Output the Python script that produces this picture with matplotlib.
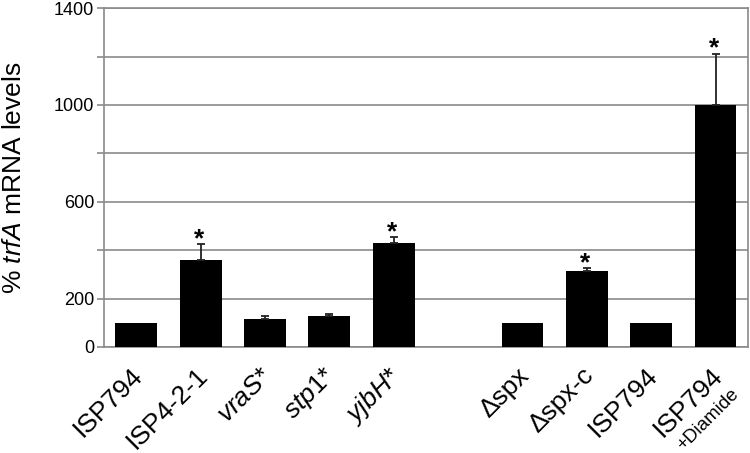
import numpy as np
import matplotlib
matplotlib.use('Agg')
from matplotlib import pyplot as plt
from matplotlib import transforms

plt.rcParams['font.family'] = ['Liberation Sans', 'DejaVu Sans']
plt.rcParams['mathtext.fontset'] = 'custom'
plt.rcParams['mathtext.rm'] = 'Liberation Sans'
plt.rcParams['mathtext.it'] = 'Liberation Sans:italic'

# data
labels = ['ISP794', 'ISP4-2-1', r'$\mathit{vraS}$*', r'$\mathit{stp1}$*', r'$\mathit{yjbH}$*',
          '', 'Δspx', 'Δspx-c', 'ISP794', 'ISP794']
values = [100, 358, 116, 127, 430, None, 100, 315, 100, 1000]
errors = [0, 68, 11, 11, 24, None, 0, 11, 0, 212]
signif = [False, True, False, False, True, False, False, True, False, True]

x = np.arange(len(labels))
fig = plt.figure(figsize=(7.5, 4.53), dpi=100)
ax = fig.add_axes([0.1387, 0.234, 0.997 - 0.1387, 0.982 - 0.234])

grey = '#8a8a8a'
for i in x:
    if values[i] is None:
        continue
    ax.bar(i, values[i], width=0.65, color='black', zorder=3)
    if errors[i] > 0:
        ax.errorbar(i, values[i], yerr=[[0], [errors[i]]], fmt='none', ecolor='#222222',
                    elinewidth=1.3, capsize=3, capthick=1.3, zorder=4)
    if signif[i]:
        ax.annotate('*', (i, values[i] + errors[i]), xytext=(-1, -1.5),
                    textcoords='offset points', ha='center', va='baseline',
                    fontsize=19, fontweight='bold', zorder=5)

ax.set_xlim(-0.5, 9.5)
ax.set_ylim(0, 1400)
ax.set_yticks(np.arange(0, 1401, 200))
ax.set_yticklabels(['0', '200', '', '600', '', '1000', '', '1400'], fontsize=13)
ax.yaxis.grid(True, color=grey, linewidth=1.2, zorder=0)
for s in ax.spines.values():
    s.set_color(grey)
    s.set_linewidth(1.2)
ax.tick_params(axis='y', length=5, width=1.2, color=grey, pad=2)
ax.tick_params(axis='x', length=0)

ax.set_xticks(x)
offset = transforms.ScaledTranslation(3 / 100, -20 / 100, fig.dpi_scale_trans)
ax.set_xticklabels(labels, rotation=45, ha='right', va='center', rotation_mode='anchor',
                   fontsize=19)
for t in ax.get_xticklabels():
    t.set_transform(t.get_transform() + offset)

# smaller second line under last label
ax.text(9, 0, '+Diamide', transform=ax.get_xaxis_transform() +
        transforms.ScaledTranslation(21 / 100, -45 / 100, fig.dpi_scale_trans),
        rotation=45, ha='right', va='center', rotation_mode='anchor', fontsize=13.5)

ax.set_ylabel(r'% $\mathit{trfA}$ mRNA levels', fontsize=19, labelpad=20)

plt.savefig('out.png', dpi=100)
